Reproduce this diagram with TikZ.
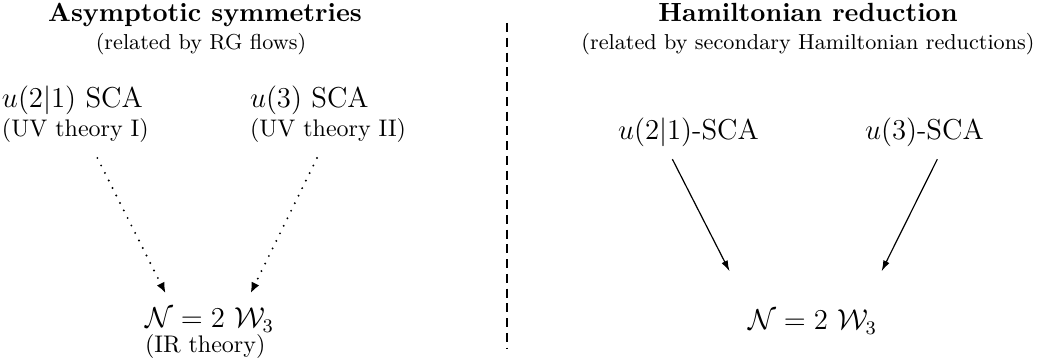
\documentclass[tikz,border=0pt,11pt]{standalone}
\usetikzlibrary{arrows.meta}

\newcommand\MYunit{0.4167pt}
\newcommand\MYsplit{507}

\begin{document}
\begin{tikzpicture}[x=\MYunit, y=\MYunit,
  every node/.style={inner sep=0pt, outer sep=0pt},
  head/.style={font=\bfseries, anchor=base},
  sub/.style={font=\footnotesize, anchor=base},
  alg/.style={font=\large, anchor=base west},
  note/.style={font=\small, anchor=base west},
  flowdot/.style={line width=0.9pt, line cap=round, dash pattern=on 0pt off 3.5pt,
    -{Latex[length=4.5pt,width=3.6pt]}},
  flow/.style={line width=0.5pt, -{Latex[length=4.5pt,width=2.8pt]}}]

\useasboundingbox (0,0) rectangle (1046,364);

% left half
\coordinate (TL) at (205,342);
\coordinate (SL) at (201,314);
\coordinate (AL) at (2,256);
\coordinate (CAL) at (2,227);
\coordinate (BL) at (250,256);
\coordinate (CBL) at (250,227);
\coordinate (WL) at (145,36);
\coordinate (CWL) at (145,11);

\node[head] (titleL) at (TL) {Asymptotic symmetries};
\node[sub] (subL) at (SL) {(related by RG flows)};
\node[alg] (uvI) at (AL) {$u(2|1)$ SCA};
\node[note] (uvInote) at (CAL) {(UV theory I)};
\node[alg] (uvII) at (BL) {$u(3)$ SCA};
\node[note] (uvIInote) at (CBL) {(UV theory II)};
\node[alg] (irW) at (WL) {$\mathcal{N}=2\ \mathcal{W}_3$};
\node[note] (irWnote) at (CWL) {(IR theory)};

\draw[flowdot] ([shift={(22,-15)}]uvInote.south) -- ([shift={(-44,15)}]irW.north);
\draw[flowdot] ([shift={(-11,-15)}]uvIInote.south) -- ([shift={(41,15)}]irW.north);

% divider
\coordinate (DT) at (\MYsplit,341);
\coordinate (DB) at (\MYsplit,16);
\draw[line width=0.8pt, dash pattern=on 3.75pt off 2.4pt] (DT) -- (DB);

% right half
\coordinate (TR) at (808,342);
\coordinate (SR) at (808,314);
\coordinate (AR) at (618,224);
\coordinate (BR) at (865,224);
\coordinate (WR) at (748,34);

\node[head] (titleR) at (TR) {Hamiltonian reduction};
\node[sub] (subR) at (SR) {(related by secondary Hamiltonian reductions)};
\node[alg] (hrI) at (AR) {$u(2|1)$-SCA};
\node[alg] (hrII) at (BR) {$u(3)$-SCA};
\node[alg] (hrW) at (WR) {$\mathcal{N}=2\ \mathcal{W}_3$};

\draw[flow] ([shift={(-16,-12)}]hrI.south) -- ([shift={(-83,39)}]hrW.north);
\draw[flow] ([shift={(13,-12)}]hrII.south) -- ([shift={(69,39)}]hrW.north);

\end{tikzpicture}
\end{document}
